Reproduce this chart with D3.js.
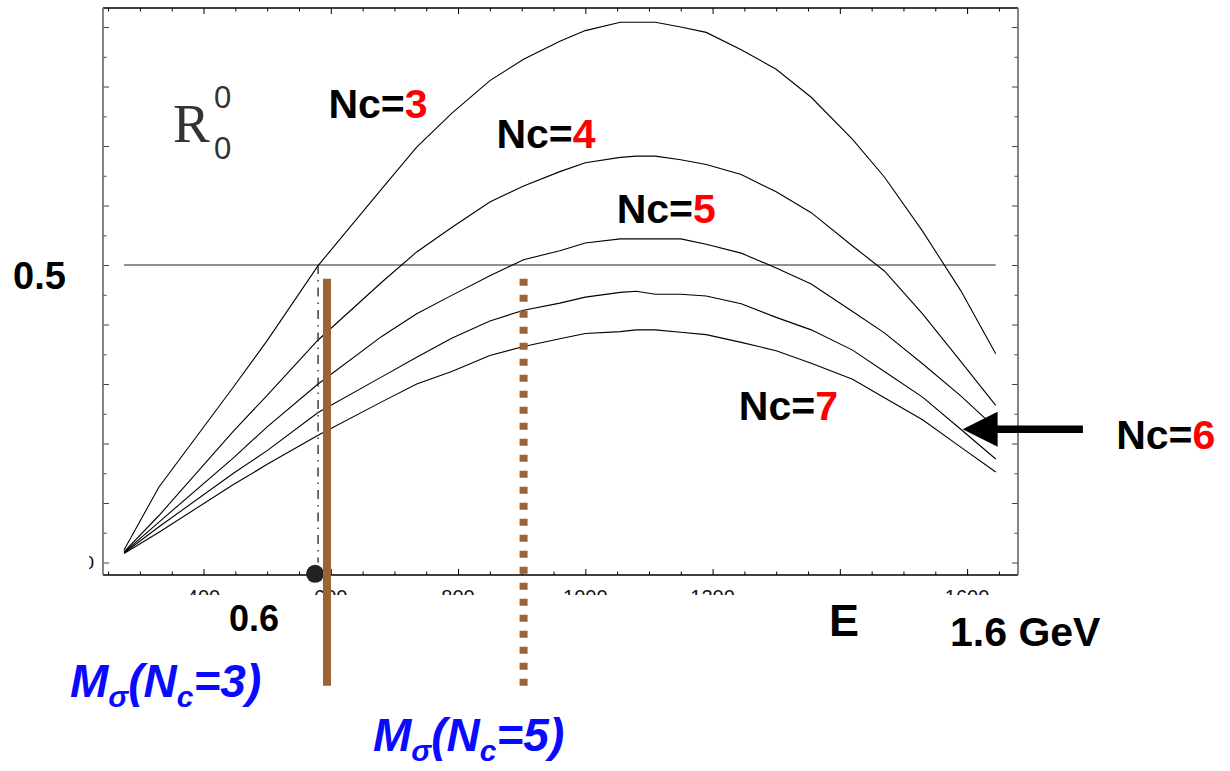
<!DOCTYPE html>
<html>
<head>
<meta charset="utf-8">
<script src="https://cdn.jsdelivr.net/npm/d3@7"></script>
<style>
  html, body { margin: 0; padding: 0; background: #fff; }
  svg { display: block; }
  .lbl { font-family: "Liberation Sans", Arial, sans-serif; font-weight: bold; }
</style>
</head>
<body>
<div id="chart"></div>
<script>
// energy grid (MeV) and R_0^0 curves for each Nc
const energy = [275, 330, 447, 500, 580, 680, 735, 790, 850, 903, 960, 1000, 1055, 1080, 1110, 1150, 1190, 1245, 1300, 1355, 1420, 1470, 1530, 1590, 1645];
const rNc3 = [0.021, 0.127, 0.295, 0.373, 0.499, 0.628, 0.698, 0.755, 0.810, 0.846, 0.876, 0.894, 0.908, 0.908, 0.908, 0.900, 0.891, 0.862, 0.829, 0.782, 0.711, 0.648, 0.557, 0.457, 0.351];
const rNc4 = [0.018, 0.079, 0.221, 0.281, 0.374, 0.471, 0.522, 0.563, 0.606, 0.633, 0.657, 0.672, 0.681, 0.683, 0.683, 0.677, 0.669, 0.652, 0.623, 0.588, 0.532, 0.490, 0.418, 0.338, 0.264];
const rNc5 = [0.017, 0.068, 0.176, 0.228, 0.300, 0.380, 0.418, 0.449, 0.482, 0.509, 0.524, 0.537, 0.544, 0.544, 0.544, 0.544, 0.535, 0.520, 0.495, 0.468, 0.422, 0.386, 0.334, 0.280, 0.226];
const rNc6 = [0.016, 0.060, 0.150, 0.188, 0.252, 0.312, 0.345, 0.377, 0.406, 0.424, 0.436, 0.446, 0.454, 0.456, 0.451, 0.451, 0.448, 0.435, 0.412, 0.391, 0.357, 0.321, 0.278, 0.224, 0.174];
const rNc7 = [0.015, 0.051, 0.131, 0.165, 0.214, 0.270, 0.300, 0.321, 0.348, 0.363, 0.376, 0.385, 0.388, 0.391, 0.391, 0.387, 0.383, 0.370, 0.356, 0.335, 0.308, 0.277, 0.240, 0.194, 0.152];
const series = [rNc3, rNc4, rNc5, rNc6, rNc7];

const ncValues = ['3', '4', '5', '7', '6'];
const ncLabelE = [601, 865, 1054, 1246, 1839];
const ncLabelR = [0.747, 0.696, 0.570, 0.2395, 0.190];

const xTickLabels = [400, 600, 800, 1000, 1200, 1600];
const yTickLabels = [0];

const refLevel = 0.5;          // horizontal line R = 0.5
const crossE = 580;            // where Nc=3 crosses 0.5
const mSigma3 = 594;           // M_sigma(Nc=3), solid bar
const mSigma5 = 903;           // M_sigma(Nc=5), dotted bar
const barR = [0.477, -0.207];  // vertical extent of the two bars
const arrowTip = [1593, 0.224];
const arrowTailE = 1782;

const W = 1230, H = 771;
const svg = d3.select('#chart').append('svg').attr('width', W).attr('height', H);

const x = d3.scaleLinear().domain([242, 1680]).range([103, 1018]);
const y = d3.scaleLinear().domain([-0.021, 0.932]).range([575, 8]);

// axis ticks pointing inward, majors every 200 MeV / 0.1
const xMinor = d3.range(250, 1651, 50).filter(v => v % 200 !== 0);
const xMajor = d3.range(400, 1601, 200);
const yAll = d3.range(0, 19).map(i => +(i * 0.05).toFixed(2));
const yMajor = yAll.filter((v, i) => i % 2 === 0);
const yMinor = yAll.filter((v, i) => i % 2 === 1);

function axisGroup(axis, tx, ty, color) {
  const g = svg.append('g').attr('transform', `translate(${tx},${ty})`).call(axis);
  g.select('.domain').remove();
  g.selectAll('.tick line').attr('stroke', color).attr('stroke-width', 1);
  g.selectAll('.tick text').remove();
}
axisGroup(d3.axisBottom(x).tickValues(xMajor).tickSize(-6), 0, 575, '#000');
axisGroup(d3.axisBottom(x).tickValues(xMinor).tickSize(-3.5), 0, 575, '#000');
axisGroup(d3.axisTop(x).tickValues(xMajor).tickSize(-6), 0, 8, '#000');
axisGroup(d3.axisTop(x).tickValues(xMinor).tickSize(-3.5), 0, 8, '#000');
axisGroup(d3.axisLeft(y).tickValues(yMajor).tickSize(-6), 103, 0, '#444');
axisGroup(d3.axisLeft(y).tickValues(yMinor).tickSize(-3.5), 103, 0, '#444');
axisGroup(d3.axisRight(y).tickValues(yMajor).tickSize(-6), 1018, 0, '#444');
axisGroup(d3.axisRight(y).tickValues(yMinor).tickSize(-3.5), 1018, 0, '#444');

// frame
svg.append('line').attr('x1', 103).attr('x2', 1018).attr('y1', 8).attr('y2', 8).attr('stroke', '#000').attr('stroke-width', 1.3);
svg.append('line').attr('x1', 103).attr('x2', 1018).attr('y1', 575).attr('y2', 575).attr('stroke', '#000').attr('stroke-width', 1.3);
svg.append('line').attr('x1', 103).attr('x2', 103).attr('y1', 8).attr('y2', 575).attr('stroke', '#666').attr('stroke-width', 1.6);
svg.append('line').attr('x1', 1018).attr('x2', 1018).attr('y1', 8).attr('y2', 575).attr('stroke', '#666').attr('stroke-width', 1.6);

// tick labels, mostly hidden below the frame (only their tops show)
svg.append('clipPath').attr('id', 'clipX').append('rect').attr('x', 0).attr('y', 585).attr('width', W).attr('height', 10);
svg.append('g').attr('clip-path', 'url(#clipX)')
  .selectAll('text').data(xTickLabels).join('text')
  .attr('x', d => x(d)).attr('y', 604)
  .attr('text-anchor', 'middle')
  .attr('font-family', 'Liberation Sans, Arial, sans-serif')
  .attr('font-size', 20).attr('fill', '#111')
  .text(d => d);
svg.append('clipPath').attr('id', 'clipY').append('rect').attr('x', 89).attr('y', 0).attr('width', 10).attr('height', H);
svg.append('g').attr('clip-path', 'url(#clipY)')
  .selectAll('text').data(yTickLabels).join('text')
  .attr('x', 94).attr('y', d => y(d) + 6)
  .attr('text-anchor', 'end')
  .attr('font-family', 'Liberation Sans, Arial, sans-serif')
  .attr('font-size', 19).attr('fill', '#111')
  .text(d => d);

// reference line R = 0.5
svg.append('line')
  .attr('x1', x(energy[0])).attr('x2', x(energy[energy.length - 1]))
  .attr('y1', y(refLevel)).attr('y2', y(refLevel))
  .attr('stroke', '#222').attr('stroke-width', 1.1);

// curves
const line = d3.line().x((d, i) => x(energy[i])).y(d => y(d));
svg.append('g').selectAll('path').data(series).join('path')
  .attr('d', d => line(d))
  .attr('fill', 'none').attr('stroke', '#000').attr('stroke-width', 1.1);

// dash-dot drop line and dot
svg.append('line')
  .attr('x1', x(crossE)).attr('x2', x(crossE))
  .attr('y1', y(refLevel)).attr('y2', y(0))
  .attr('stroke', '#222').attr('stroke-width', 1.3)
  .attr('stroke-dasharray', '9,6,1.5,6');
svg.append('circle')
  .attr('cx', x(crossE) - 3).attr('cy', y(-0.019)).attr('r', 9)
  .attr('fill', '#222');

// sigma mass bars
const brown = '#9a6434';
svg.append('line')
  .attr('x1', x(mSigma3)).attr('x2', x(mSigma3))
  .attr('y1', y(barR[0])).attr('y2', y(barR[1]))
  .attr('stroke', brown).attr('stroke-width', 8);
svg.append('line')
  .attr('x1', x(mSigma5)).attr('x2', x(mSigma5))
  .attr('y1', y(barR[0])).attr('y2', y(barR[1]))
  .attr('stroke', brown).attr('stroke-width', 8)
  .attr('stroke-dasharray', '7,9');

// arrow to Nc=6
const tipX = x(arrowTip[0]), tipY = y(arrowTip[1]);
svg.append('line')
  .attr('x1', x(arrowTailE)).attr('x2', tipX + 30)
  .attr('y1', tipY).attr('y2', tipY)
  .attr('stroke', '#000').attr('stroke-width', 7.5);
svg.append('path')
  .attr('d', `M${tipX},${tipY} L${tipX + 35},${tipY - 17.5} L${tipX + 35},${tipY + 17.5} Z`)
  .attr('fill', '#000');

// Nc labels
const ncG = svg.append('g');
ncValues.forEach((v, i) => {
  const t = ncG.append('text').attr('class', 'lbl')
    .attr('x', x(ncLabelE[i]) - 3).attr('y', y(ncLabelR[i]))
    .attr('font-size', 41);
  t.append('tspan').attr('fill', '#000').text('Nc=');
  t.append('tspan').attr('fill', '#ff0000').text(v);
});

// plain labels
function label(txt, px, py, size) {
  svg.append('text').attr('class', 'lbl').attr('x', px).attr('y', py)
    .attr('font-size', size).attr('fill', '#000').text(txt);
}
label('0.5', 13, 289, 38);
label('0.6', 229, 631, 36);
label('E', 829, 636, 45);
label('1.6 GeV', 950, 646, 41);

// R_0^0
svg.append('text').attr('x', 173).attr('y', 141.5)
  .attr('font-family', 'Liberation Serif, Times New Roman, serif')
  .attr('font-size', 55).attr('fill', '#333').text('R');
svg.append('text').attr('x', 214).attr('y', 107.5)
  .attr('font-family', 'Liberation Sans Narrow, Liberation Sans, sans-serif')
  .attr('font-size', 31).attr('fill', '#333').text('0');
svg.append('text').attr('x', 214).attr('y', 158.5)
  .attr('font-family', 'Liberation Sans Narrow, Liberation Sans, sans-serif')
  .attr('font-size', 31).attr('fill', '#333').text('0');

// M_sigma labels
function sigmaLabel(n, px, py) {
  const t = svg.append('text').attr('class', 'lbl')
    .attr('x', px).attr('y', py).attr('font-size', 46)
    .attr('font-style', 'italic').attr('fill', '#0a0aff');
  t.append('tspan').text('M');
  t.append('tspan').attr('font-size', 30).attr('dy', 10).text('σ');
  t.append('tspan').attr('dy', -10).text('(N');
  t.append('tspan').attr('font-size', 30).attr('dy', 10).text('c');
  t.append('tspan').attr('dy', -10).text('=' + n + ')');
}
sigmaLabel(3, 70, 697);
sigmaLabel(5, 373, 751);
</script>
</body>
</html>
